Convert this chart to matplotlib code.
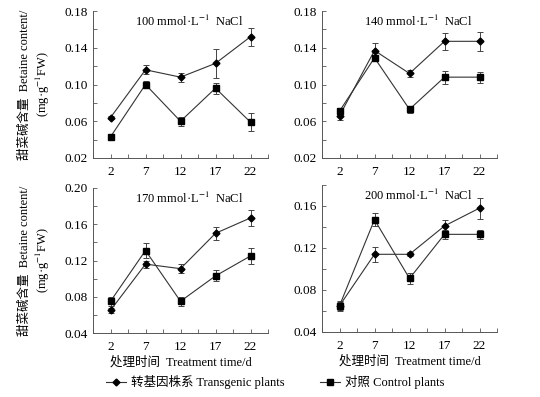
import numpy as np
import matplotlib
matplotlib.use("Agg")
import matplotlib.pyplot as plt
from matplotlib.ticker import MultipleLocator
from matplotlib.lines import Line2D

plt.rcParams["font.family"] = ["Liberation Serif", "Noto Sans CJK SC"]
plt.rcParams["mathtext.fontset"] = "stix"

days = ["2", "7", "12", "17", "22"]
titles = ["100 mmol·L$^{-1}$  NaCl", "140 mmol·L$^{-1}$  NaCl",
          "170 mmol·L$^{-1}$  NaCl", "200 mmol·L$^{-1}$  NaCl"]

# transgenic plants (mean, error)
trans_100 = [0.064, 0.116, 0.108, 0.123, 0.152]
trans_100_err = [0.002, 0.005, 0.005, 0.016, 0.010]
trans_140 = [0.066, 0.137, 0.112, 0.147, 0.147]
trans_140_err = [0.005, 0.008, 0.004, 0.009, 0.010]
trans_170 = [0.065, 0.116, 0.111, 0.150, 0.167]
trans_170_err = [0.003, 0.004, 0.005, 0.007, 0.009]
trans_200 = [0.065, 0.114, 0.114, 0.141, 0.158]
trans_200_err = [0.005, 0.007, 0.002, 0.006, 0.010]

# control plants (mean, error)
ctrl_100 = [0.043, 0.100, 0.060, 0.096, 0.059]
ctrl_100_err = [0.002, 0.004, 0.005, 0.006, 0.010]
ctrl_140 = [0.071, 0.129, 0.073, 0.108, 0.108]
ctrl_140_err = [0.003, 0.003, 0.004, 0.007, 0.006]
ctrl_170 = [0.075, 0.131, 0.075, 0.103, 0.125]
ctrl_170_err = [0.005, 0.008, 0.005, 0.006, 0.009]
ctrl_200 = [0.065, 0.147, 0.091, 0.133, 0.133]
ctrl_200_err = [0.004, 0.006, 0.005, 0.004, 0.004]

trans = [trans_100, trans_140, trans_170, trans_200]
trans_err = [trans_100_err, trans_140_err, trans_170_err, trans_200_err]
ctrl = [ctrl_100, ctrl_140, ctrl_170, ctrl_200]
ctrl_err = [ctrl_100_err, ctrl_140_err, ctrl_170_err, ctrl_200_err]

ylims = [(0.02, 0.18), (0.02, 0.18), (0.04, 0.20), (0.04, 0.18)]
yticks = [[0.02, 0.06, 0.10, 0.14, 0.18], [0.02, 0.06, 0.10, 0.14, 0.18],
          [0.04, 0.08, 0.12, 0.16, 0.20], [0.04, 0.08, 0.12, 0.16]]

# axes boxes in pixels: left, top, right, bottom
boxes = [(93, 11, 268, 158), (322, 11, 497, 158),
         (93, 188, 268, 333), (322, 185, 497, 332)]

W, H = 540, 397
fig = plt.figure(figsize=(W / 100, H / 100), dpi=100)
x = np.arange(len(days))
lc = "#333333"
fs = 9.5

for i, (l, t, r, b) in enumerate(boxes):
    ax = fig.add_axes([l / W, 1 - b / H, (r - l) / W, (b - t) / H])
    ax.errorbar(x, trans[i], yerr=trans_err[i], color=lc, lw=0.8,
                marker="D", ms=3.5, mfc="black", mec="black",
                ecolor="#444444", elinewidth=0.7, capsize=2.5, capthick=0.7)
    ax.errorbar(x, ctrl[i], yerr=ctrl_err[i], color=lc, lw=0.8,
                marker="s", ms=5, mfc="black", mec="black",
                ecolor="#444444", elinewidth=0.7, capsize=2.5, capthick=0.7)
    ax.set_xlim(-0.5, 4.5)
    ax.set_ylim(*ylims[i])
    ax.set_xticks(x)
    ax.set_xticklabels(days, fontsize=fs)
    ax.xaxis.set_minor_locator(MultipleLocator(0.5))
    ax.set_yticks(yticks[i])
    ax.set_yticklabels(["%.2f" % v for v in yticks[i]], fontsize=fs)
    ax.yaxis.set_minor_locator(MultipleLocator(0.02))
    ax.tick_params(which="both", direction="in", length=3, width=0.6, color="#555555")
    ax.tick_params(axis="x", pad=6)
    ax.spines["top"].set_visible(False)
    ax.spines["right"].set_visible(False)
    for s in ["left", "bottom"]:
        ax.spines[s].set_linewidth(0.7)
        ax.spines[s].set_color("#555555")
    ax.text(0.55, 0.98, titles[i], transform=ax.transAxes, ha="center", va="top",
            fontsize=9)
    if i % 2 == 0:
        ax.set_ylabel("甜菜碱含量  Betaine content/\n(mg·g$^{-1}$FW)", fontsize=9,
                      linespacing=1.25, labelpad=9)
    if i >= 2:
        ax.set_xlabel("处理时间  Treatment time/d", fontsize=9, labelpad=2)

handles = [Line2D([], [], color=lc, lw=0.8, marker="D", ms=3.5, mfc="black", mec="black"),
           Line2D([], [], color=lc, lw=0.8, marker="s", ms=5, mfc="black", mec="black")]
fig.legend(handles, ["转基因株系 Transgenic plants", "对照 Control plants"],
           loc="center", bbox_to_anchor=(0.51, 0.038), ncol=2, frameon=False,
           fontsize=9, handlelength=1.6, columnspacing=2.8, handletextpad=0.4)

fig.savefig("out.png", dpi=100)
